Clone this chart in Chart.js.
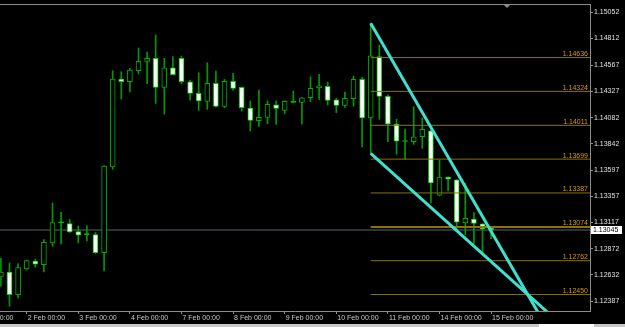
<!DOCTYPE html>
<html>
<head>
<meta charset="utf-8">
<script src="https://cdn.jsdelivr.net/npm/chart.js@4.4.0/dist/chart.umd.min.js"></script>
<style>
  html, body { margin: 0; padding: 0; background: #000; }
  #wrap { width: 625px; height: 327px; }
</style>
</head>
<body>
<div id="wrap"><canvas id="chart" width="625" height="327"></canvas></div>
<script>
// EURUSD H4 candles, index 0 = 2 Feb 00:00, first candle = 1 Feb 12:00
const firstIdx = -3;
const opens = [
  1.12612, 1.12658, 1.12449, 1.12686, 1.12759, 1.12726, 1.12926, 1.13114, 1.13105, 1.13031,
  1.13003, 1.13003, 1.12837, 1.13628, 1.14438, 1.14413, 1.14514, 1.14601, 1.14629, 1.14361,
  1.14542, 1.14629, 1.14413, 1.14306, 1.14232, 1.14398, 1.14186, 1.14417, 1.14361, 1.14170,
  1.14053, 1.14084, 1.14200, 1.14149, 1.14222, 1.14223, 1.14265, 1.14357, 1.14370, 1.14247,
  1.14195, 1.14256, 1.14435, 1.14080, 1.14644, 1.14278, 1.14022, 1.13862, 1.13859, 1.13905,
  1.13960, 1.13366, 1.13533, 1.13508, 1.13110, 1.13147, 1.13101, 1.13064
];
const highs = [
  1.12784, 1.12741, 1.12735, 1.12768, 1.12775, 1.12957, 1.13295, 1.13209, 1.13142, 1.13083,
  1.13083, 1.13022, 1.13640, 1.14514, 1.14505, 1.14537, 1.14724, 1.14687, 1.14844, 1.14629,
  1.14644, 1.14650, 1.14428, 1.14496, 1.14588, 1.14512, 1.14435, 1.14490, 1.14365, 1.14235,
  1.14336, 1.14237, 1.14237, 1.14237, 1.14327, 1.14267, 1.14459, 1.14481, 1.14410, 1.14260,
  1.14318, 1.14465, 1.14453, 1.14952, 1.14752, 1.14293, 1.14068, 1.13976, 1.14182, 1.14080,
  1.13965, 1.13690, 1.13536, 1.13510, 1.13474, 1.13206, 1.13103, 1.13066
];
const lows = [
  1.12526, 1.12341, 1.12418, 1.12676, 1.12704, 1.12658, 1.12895, 1.12916, 1.13022, 1.12926,
  1.12944, 1.12828, 1.12667, 1.13606, 1.14253, 1.14320, 1.14484, 1.14394, 1.14213, 1.14114,
  1.14475, 1.14394, 1.14244, 1.14149, 1.14158, 1.14179, 1.14173, 1.14336, 1.14142, 1.13960,
  1.14001, 1.14025, 1.14019, 1.14117, 1.14219, 1.14022, 1.14228, 1.14250, 1.14198, 1.14127,
  1.14176, 1.14188, 1.13812, 1.13751, 1.14066, 1.13859, 1.13745, 1.13699, 1.13835, 1.13798,
  1.13295, 1.13360, 1.13406, 1.13055, 1.13003, 1.12914, 1.12821, 1.12966
];
const closes = [
  1.12658, 1.12449, 1.12698, 1.12763, 1.12729, 1.12932, 1.13114, 1.13112, 1.13027, 1.12997,
  1.13005, 1.12837, 1.13634, 1.14438, 1.14413, 1.14521, 1.14601, 1.14629, 1.14361, 1.14542,
  1.14477, 1.14413, 1.14306, 1.14235, 1.14398, 1.14186, 1.14417, 1.14352, 1.14173, 1.14056,
  1.14084, 1.14204, 1.14167, 1.14232, 1.14224, 1.14265, 1.14352, 1.14376, 1.14241, 1.14195,
  1.14260, 1.14435, 1.14080, 1.14653, 1.14278, 1.14022, 1.13865, 1.13864, 1.13905, 1.13973,
  1.13480, 1.13533, 1.13514, 1.13117, 1.13154, 1.13105, 1.13055, 1.13045
];

// axis ticks
const dayIdx = [-6, 0, 6, 12, 18, 24, 30, 36, 42, 48, 54];
const dayLabels = ['1 Feb 00:00', '2 Feb 00:00', '3 Feb 00:00', '4 Feb 00:00', '7 Feb 00:00', '8 Feb 00:00',
  '9 Feb 00:00', '10 Feb 00:00', '11 Feb 00:00', '14 Feb 00:00', '15 Feb 00:00'];
const priceTicks = [1.15052, 1.14812, 1.14567, 1.14327, 1.14082, 1.13842, 1.13597, 1.13357,
  1.13117, 1.12872, 1.12632, 1.12387];

// fibo levels and trend lines
const fibStart = 40;
const fibLevels = [1.14636, 1.14324, 1.14011, 1.13699, 1.13387, 1.13074, 1.12762, 1.12450];
const trendUpper = [[40, 1.14952], [60, 1.12211]];
const trendLower = [[40, 1.13751], [61, 1.12255]];

const xMin = -3.105, xMax = 65.5;
const yMin = 1.12298, yMax = 1.15130;
const lastPrice = closes[closes.length - 1];

const frameColor = '#8c8c8c';
const wickColor = '#009a00';
const fibColor = '#8a7300';
const fontY = '7px "Liberation Sans"';

const isDoji = k => Math.abs(opens[k] - closes[k]) < 0.00003;

const wicks = lows.map((l, k) => ({ x: firstIdx + k, y: [l, highs[k]] }));
const bodies = opens.map((o, k) => ({ x: firstIdx + k, y: [o, closes[k]] }));

const fibSets = fibLevels.map(v => ({
  type: 'line',
  data: [{ x: fibStart, y: v }, { x: xMax, y: v }],
  borderColor: fibColor,
  borderWidth: v === 1.13074 ? 2 : 1,
  pointRadius: 0,
  order: 0
}));

const trendSet = pts => ({
  type: 'line',
  data: pts.map(p => ({ x: p[0], y: p[1] })),
  borderColor: '#40e0d0',
  borderWidth: 3,
  pointRadius: 0,
  order: -1
});

const chromePlugin = {
  id: 'chrome',
  afterDraw(chart) {
    const { ctx, chartArea: a, scales: { y } } = chart;
    ctx.save();
    // top frame line
    ctx.strokeStyle = frameColor;
    ctx.lineWidth = 1;
    ctx.beginPath();
    ctx.moveTo(0, a.top + 0.5);
    ctx.lineTo(a.right, a.top + 0.5);
    ctx.stroke();
    // chart shift marker
    ctx.fillStyle = frameColor;
    ctx.beginPath();
    ctx.moveTo(503, a.top);
    ctx.lineTo(511, a.top);
    ctx.lineTo(507, a.top + 4);
    ctx.fill();
    // fibo level labels
    ctx.font = fontY;
    ctx.fillStyle = '#d59b00';
    ctx.textAlign = 'right';
    ctx.textBaseline = 'alphabetic';
    fibLevels.forEach(v => {
      ctx.fillText(v.toFixed(5), a.right - 2, y.getPixelForValue(v) - 1.5);
    });
    // current price box
    const py = Math.round(y.getPixelForValue(lastPrice));
    ctx.fillStyle = '#fff';
    ctx.fillRect(a.right + 1, py - 4, 31, 8);
    ctx.fillStyle = '#000';
    ctx.textAlign = 'left';
    ctx.textBaseline = 'middle';
    ctx.fillText(lastPrice.toFixed(5), a.right + 3, py);
    // bottom window strip
    ctx.fillStyle = '#c8c8c8';
    ctx.fillRect(0, 324, chart.width, 3);
    ctx.fillStyle = '#fff';
    ctx.fillRect(539, 324, 55, 3);
    ctx.restore();
  }
};

new Chart(document.getElementById('chart'), {
  type: 'bar',
  data: {
    datasets: [
      {
        data: bodies,
        grouped: false,
        barThickness: 5,
        minBarLength: 1,
        borderWidth: 1,
        borderSkipped: false,
        borderColor: ctx => closes[ctx.dataIndex] >= opens[ctx.dataIndex] ? '#00b000' : '#00d400',
        backgroundColor: ctx => {
          const k = ctx.dataIndex;
          if (isDoji(k)) return '#00d400';
          return closes[k] > opens[k] ? '#000' : '#fff';
        },
        order: 1
      },
      {
        data: wicks,
        grouped: false,
        barThickness: 1,
        borderWidth: 0,
        backgroundColor: wickColor,
        order: 2
      },
      {
        type: 'line',
        data: [{ x: xMin, y: lastPrice }, { x: xMax, y: lastPrice }],
        borderColor: '#5c6470',
        borderWidth: 1,
        pointRadius: 0,
        order: 3
      },
      ...fibSets,
      trendSet(trendUpper),
      trendSet(trendLower)
    ]
  },
  options: {
    responsive: false,
    animation: false,
    layout: { padding: { top: 4, left: 0, right: 0, bottom: 0 } },
    plugins: { legend: { display: false }, tooltip: { enabled: false } },
    scales: {
      x: {
        type: 'linear',
        min: xMin,
        max: xMax,
        offset: false,
        grid: { offset: false, drawOnChartArea: false, color: frameColor, tickLength: 3 },
        border: { color: frameColor },
        ticks: {
          autoSkip: false,
          maxRotation: 0,
          align: 'start',
          labelOffset: 1,
          padding: 0,
          color: '#c8c8c8',
          font: { family: '"Liberation Sans"', size: 7 },
          callback: v => dayLabels[dayIdx.indexOf(v)]
        },
        afterBuildTicks: s => { s.ticks = dayIdx.map(v => ({ value: v })); },
        afterFit: s => { s.height = 16; s.paddingLeft = 0; s.paddingRight = 0; }
      },
      y: {
        position: 'right',
        min: yMin,
        max: yMax,
        grid: { drawOnChartArea: false, color: frameColor, tickLength: 3 },
        border: { color: frameColor },
        ticks: {
          padding: 1,
          color: '#e0e0e0',
          font: { family: '"Liberation Sans"', size: 7 },
          callback: v => v.toFixed(5)
        },
        afterBuildTicks: s => { s.ticks = priceTicks.map(v => ({ value: v })); },
        afterFit: s => { s.width = 35; s.paddingTop = 0; s.paddingBottom = 0; }
      }
    }
  },
  plugins: [chromePlugin]
});
</script>
</body>
</html>
